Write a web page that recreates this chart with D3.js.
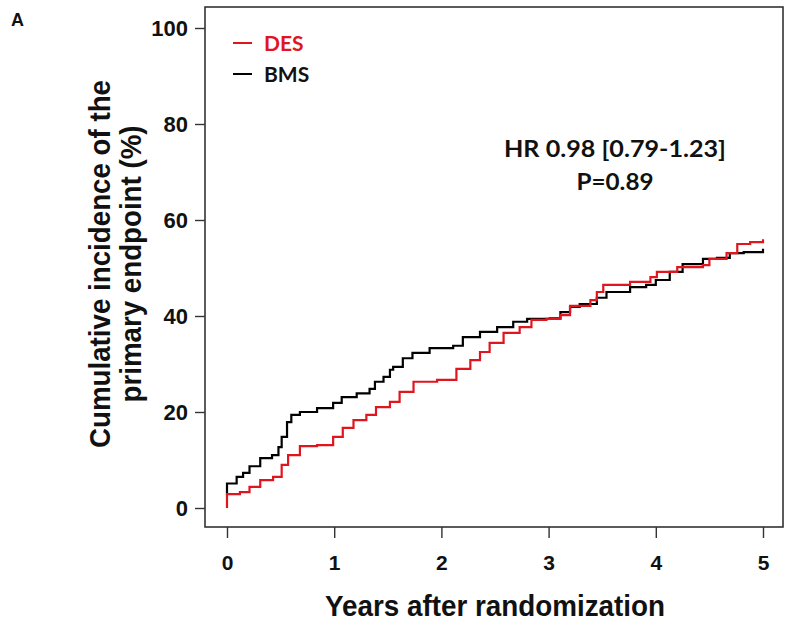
<!DOCTYPE html>
<html>
<head>
<meta charset="utf-8">
<script src="https://cdn.jsdelivr.net/npm/d3@7"></script>
<style>
body { margin: 0; background: #fff; }
svg { display: block; }
</style>
</head>
<body>
<div id="chart"></div>
<script>
'use strict'

var width = 788;
var height = 630;

// series (years, percent)
var bmsYears = [0, 0, 0.09, 0.15, 0.21, 0.31, 0.42, 0.48, 0.51, 0.56, 0.60, 0.68, 0.84, 0.99, 1.07, 1.21, 1.33, 1.38, 1.46, 1.52, 1.55, 1.64, 1.73, 1.89, 2.11, 2.20, 2.36, 2.52, 2.67, 2.80, 3.01, 3.11, 3.20, 3.29, 3.45, 3.54, 3.76, 3.91, 4.00, 4.13, 4.25, 4.44, 4.57, 4.69, 4.82, 5.0];
var bmsValues = [2.7, 5.1, 6.5, 7.3, 8.7, 10.4, 11.0, 12.7, 14.8, 17.9, 19.4, 20.0, 20.8, 21.9, 23.1, 23.9, 24.8, 26.3, 27.3, 28.8, 29.4, 31.2, 32.3, 33.3, 33.8, 35.6, 36.7, 37.7, 38.8, 39.4, 39.5, 40.8, 41.9, 42.5, 43.8, 45.0, 46.0, 46.5, 47.5, 49.2, 50.8, 51.9, 52.1, 53.1, 53.3, 54.0];

var desYears = [0, 0, 0.12, 0.21, 0.31, 0.43, 0.51, 0.57, 0.68, 0.84, 0.99, 1.08, 1.18, 1.30, 1.39, 1.52, 1.61, 1.74, 1.96, 2.14, 2.27, 2.36, 2.45, 2.58, 2.73, 2.84, 2.98, 3.11, 3.20, 3.39, 3.45, 3.51, 3.76, 3.95, 4.01, 4.20, 4.44, 4.50, 4.66, 4.76, 4.88, 5.0];
var desValues = [0, 2.9, 3.3, 4.4, 5.8, 6.5, 9.0, 11.0, 12.9, 13.1, 14.8, 16.7, 18.3, 19.4, 21.0, 22.1, 24.2, 26.3, 26.7, 29.0, 30.8, 32.5, 34.4, 36.5, 37.7, 39.2, 39.4, 40.2, 42.1, 43.3, 45.0, 46.5, 47.1, 48.1, 49.2, 50.2, 50.6, 51.9, 53.1, 55.0, 55.4, 56.0];

var xTicks = [0, 1, 2, 3, 4, 5];
var yTicks = [0, 20, 40, 60, 80, 100];

var seriesNames = ["DES", "BMS"];
var seriesColors = ["#e0161e", "#000000"];

var arialBold = "'Liberation Sans', Arial, sans-serif";
var calibriLike = "Lato, 'Open Sans', sans-serif";

var svg = d3.select("#chart").append("svg").attr("width", width).attr("height", height);

var x = d3.scaleLinear().domain([0, 5]).range([227, 763]);
var y = d3.scaleLinear().domain([0, 100]).range([508, 28]);

//plot box
var box = { left: 205, top: 7, right: 783, bottom: 527 };

svg.append("rect")
    .attr("x", box.left).attr("y", box.top)
    .attr("width", box.right - box.left).attr("height", box.bottom - box.top)
    .style("fill", "none").style("stroke", "#333").style("stroke-width", 1.6);

// x axis ticks and labels
var xAxis = d3.axisBottom(x).tickValues(xTicks).tickSize(11).tickPadding(17).tickFormat(d3.format("d"));
var gx = svg.append("g").attr("transform", "translate(0," + box.bottom + ")").call(xAxis);
gx.select(".domain").remove();
gx.selectAll("line").style("stroke", "#333").style("stroke-width", 1.4);
gx.selectAll("text").style("font-family", arialBold).style("font-weight", "bold").style("font-size", "21px").style("fill", "#111");

var yAxis = d3.axisLeft(y).tickValues(yTicks).tickSize(10).tickPadding(7).tickFormat(d3.format("d"));
var gy = svg.append("g").attr("transform", "translate(" + box.left + ",0)").call(yAxis);
gy.select(".domain").remove();
gy.selectAll("line").style("stroke", "#333").style("stroke-width", 1.4);
gy.selectAll("text").style("font-family", arialBold).style("font-weight", "bold").style("font-size", "22px").style("fill", "#111");

// axis titles
svg.append("text")
    .attr("x", 495).attr("y", 616)
    .attr("text-anchor", "middle")
    .attr("textLength", 340).attr("lengthAdjust", "spacingAndGlyphs")
    .style("font-family", arialBold).style("font-weight", "bold").style("font-size", "29px").style("fill", "#111")
    .text("Years after randomization");

var yTitle = ["Cumulative incidence of the", "primary endpoint (%)"];
var yTitleLen = [368, 277];
var yTitleBase = [110, 141];
yTitle.forEach(function(line, i) {
    svg.append("text")
        .attr("transform", "translate(" + yTitleBase[i] + ",264) rotate(-90)")
        .attr("text-anchor", "middle")
        .attr("textLength", yTitleLen[i]).attr("lengthAdjust", "spacingAndGlyphs")
        .style("font-family", arialBold).style("font-weight", "bold").style("font-size", "29px").style("fill", "#111")
        .text(line);
});

// curves
var line = d3.line()
    .x(function(d) { return x(d.t); })
    .y(function(d) { return y(d.v); })
    .curve(d3.curveStepAfter);

function toPoints(ts, vs) {
    return ts.map(function(t, i) { return { t: t, v: vs[i] }; });
}

var curves = [
    { name: "BMS", color: seriesColors[1], points: toPoints(bmsYears, bmsValues) },
    { name: "DES", color: seriesColors[0], points: toPoints(desYears, desValues) }
];

curves.forEach(function(c) {
    svg.append("path")
        .datum(c.points)
        .attr("d", line)
        .style("fill", "none")
        .style("stroke", c.color)
        .style("stroke-width", 2.2);
});

// legend
var legendY = [43, 74];
seriesNames.forEach(function(name, i) {
    svg.append("line")
        .attr("x1", 233).attr("x2", 252)
        .attr("y1", legendY[i]).attr("y2", legendY[i])
        .style("stroke", seriesColors[i]).style("stroke-width", 2);
    svg.append("text")
        .attr("x", 264).attr("y", legendY[i] + 8)
        .style("font-family", calibriLike).style("font-weight", "bold").style("font-size", "21px")
        .style("fill", i == 0 ? seriesColors[0] : "#111")
        .text(name);
});

// hazard ratio annotation
var notes = ["HR 0.98 [0.79-1.23]", "P=0.89"];
var notesLen = [222, 77];
var notesY = [157, 190];
notes.forEach(function(n, i) {
    svg.append("text")
        .attr("x", 615).attr("y", notesY[i])
        .attr("text-anchor", "middle")
        .attr("textLength", notesLen[i]).attr("lengthAdjust", "spacingAndGlyphs")
        .style("font-family", calibriLike).style("font-weight", "bold").style("font-size", "23px").style("fill", "#111")
        .text(n);
});

// panel letter
svg.append("text")
    .attr("x", 11).attr("y", 26)
    .style("font-family", arialBold).style("font-weight", "bold").style("font-size", "18px").style("fill", "#111")
    .text("A");
</script>
</body>
</html>
